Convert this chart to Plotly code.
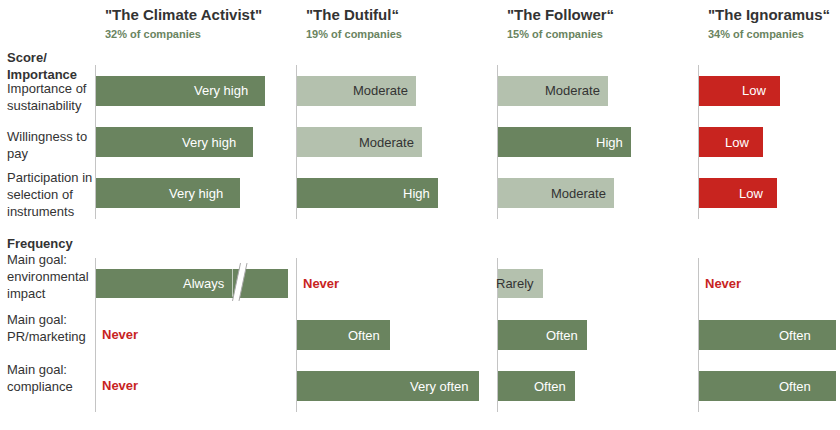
import plotly.graph_objects as go
from plotly.subplots import make_subplots

# profiles (column headers)
profiles = ['"The Climate Activist"', '"The Dutiful\u201c', '"The Follower\u201c', '"The Ignoramus\u201c']
shares = ['32% of companies', '19% of companies', '15% of companies', '34% of companies']

score_items = ['Importance of<br>sustainability', 'Willingness to<br>pay',
               'Participation in<br>selection of<br>instruments']
freq_items = ['Main goal:<br>environmental<br>impact', 'Main goal:<br>PR/marketing',
              'Main goal:<br>compliance']

# bar lengths (arbitrary units, same scale in every panel)
activist_score = [169, 157, 144]
dutiful_score = [119, 125, 141]
follower_score = [110, 133, 116]
ignoramus_score = [81, 64, 78]

activist_freq = [192, 0, 0]   # "Always" bar is drawn with a break
dutiful_freq = [0, 93, 182]
follower_freq = [45, 89, 77]
ignoramus_freq = [0, 137, 137]

activist_score_lbl = ['Very high', 'Very high', 'Very high']
dutiful_score_lbl = ['Moderate', 'Moderate', 'High']
follower_score_lbl = ['Moderate', 'High', 'Moderate']
ignoramus_score_lbl = ['Low', 'Low', 'Low']

activist_freq_lbl = ['Always', 'Never', 'Never']
dutiful_freq_lbl = ['Never', 'Often', 'Very often']
follower_freq_lbl = ['Rarely', 'Often', 'Often']
ignoramus_freq_lbl = ['Never', 'Often', 'Often']

score_vals = [activist_score, dutiful_score, follower_score, ignoramus_score]
freq_vals = [activist_freq, dutiful_freq, follower_freq, ignoramus_freq]
score_lbls = [activist_score_lbl, dutiful_score_lbl, follower_score_lbl, ignoramus_score_lbl]
freq_lbls = [activist_freq_lbl, dutiful_freq_lbl, follower_freq_lbl, ignoramus_freq_lbl]

DARK = '#6a845f'
LIGHT = '#b4c1ae'
RED = '#c8241f'
TXT = '#333333'
FONT = 'Liberation Sans, Arial, sans-serif'

# layout is done in page px; the body margin is removed below so the figure fills the window
FW, FH = 840, 430
def px_x(p): return p / FW
def px_y(p): return 1 - p / FH

colour_of = {'Very high': DARK, 'High': DARK, 'Always': DARK, 'Very often': DARK, 'Often': DARK,
             'Moderate': LIGHT, 'Rarely': LIGHT, 'Low': RED, 'Never': 'rgba(0,0,0,0)'}
text_colour = {LIGHT: TXT, DARK: 'white', RED: 'white'}

fig = make_subplots(rows=2, cols=4)

col_left = [96, 297, 498, 699]          # px where each panel's baseline sits
col_span = [201, 201, 201, 141]
top_dom = [px_y(219), px_y(65)]
bot_dom = [px_y(411.7), px_y(258.3)]

# padding between bar end and its label (px)
score_pad = [15, 6, 6, 12]
freq_pad = [61, 8, 7, 23]
score_shift = [-6, -3, -1]
freq_shift = [7, 7, 8]

annotations = []
for c in range(4):
    for r, (items, vals, lbls, pads) in enumerate([(score_items, score_vals, score_lbls, score_pad),
                                                   (freq_items, freq_vals, freq_lbls, freq_pad)]):
        n = r * 4 + c + 1
        sfx = '' if n == 1 else str(n)
        cols = [colour_of[l] for l in lbls[c]]
        fig.add_trace(go.Bar(x=vals[c], y=items, orientation='h', width=0.58,
                             marker=dict(color=cols, line=dict(width=0)),
                             hoverinfo='skip', showlegend=False), row=r + 1, col=c + 1)
        for it, v, l, cl in zip(items, vals[c], lbls[c], cols):
            if l == 'Never':
                annotations.append(dict(xref='x' + sfx, yref='y' + sfx, x=0, y=it, xanchor='left',
                                        yanchor='middle', xshift=4, text='<b>Never</b>', showarrow=False,
                                        font=dict(size=13, color=RED)))
            else:
                annotations.append(dict(xref='x' + sfx, yref='y' + sfx, x=v, y=it, xanchor='right',
                                        yanchor='middle', xshift=-pads[c], text=l, showarrow=False,
                                        font=dict(size=13, color=text_colour[cl])))
        fig.update_xaxes(domain=[px_x(col_left[c]), min(px_x(col_left[c] + col_span[c]), 1)],
                         range=[0, col_span[c]], visible=False, fixedrange=True,
                         row=r + 1, col=c + 1)
        fig.update_yaxes(domain=top_dom if r == 0 else bot_dom, autorange='reversed',
                         showline=True, linecolor='#c4c4c4', linewidth=1, showgrid=False,
                         zeroline=False, showticklabels=False, ticks='', fixedrange=True,
                         row=r + 1, col=c + 1)
    # column headers
    xr = 'x domain' if c == 0 else 'x%d domain' % (c + 1)
    annotations.append(dict(xref=xr, yref='paper', x=0, y=px_y(15), xanchor='left', yanchor='middle',
                            xshift=7, text='<b>%s</b>' % profiles[c], showarrow=False,
                            font=dict(size=15, color=TXT)))
    annotations.append(dict(xref=xr, yref='paper', x=0, y=px_y(34), xanchor='left', yanchor='middle',
                            xshift=7, text='<b>%s</b>' % shares[c], showarrow=False,
                            font=dict(size=11, color=DARK)))

# row labels on the left
for it, s in zip(score_items, score_shift):
    annotations.append(dict(xref='paper', yref='y', x=px_x(5), y=it, xanchor='left', yanchor='middle',
                            align='left', yshift=s, text=it, showarrow=False,
                            font=dict(size=13, color=TXT)))
for it, s in zip(freq_items, freq_shift):
    annotations.append(dict(xref='paper', yref='y5', x=px_x(5), y=it, xanchor='left', yanchor='middle',
                            align='left', yshift=s, text=it, showarrow=False,
                            font=dict(size=13, color=TXT)))
annotations.append(dict(xref='paper', yref='paper', x=px_x(5), y=px_y(66), xanchor='left',
                        yanchor='middle', align='left', text='<b>Score/<br>Importance</b>',
                        showarrow=False, font=dict(size=13, color=TXT)))
annotations.append(dict(xref='paper', yref='paper', x=px_x(5), y=px_y(243), xanchor='left',
                        yanchor='middle', text='<b>Frequency</b>', showarrow=False,
                        font=dict(size=13, color=TXT)))

# axis break on the "Always" bar
b = activist_freq[0] - 55.5
shapes = [
    dict(type='line', xref='x5', yref='y5 domain', x0=b, x1=b, y0=0.75, y1=0.94,
         line=dict(color='rgba(255,255,255,0.6)', width=1)),
    dict(type='path', xref='x5', yref='y5 domain',
         path='M %f,0.722 L %f,0.969 L %f,0.969 L %f,0.722 Z' % (b, b + 8, b + 14.5, b + 6.5),
         fillcolor='white', line=dict(width=0)),
    dict(type='line', xref='x5', yref='y5 domain', x0=b, x1=b + 8, y0=0.722, y1=0.969,
         line=dict(color='#a8a8a8', width=1)),
    dict(type='line', xref='x5', yref='y5 domain', x0=b + 6.5, x1=b + 14.5, y0=0.722, y1=0.969,
         line=dict(color='#a8a8a8', width=1)),
]

fig.update_layout(width=FW, height=FH, margin=dict(l=0, r=0, t=0, b=0),
                  plot_bgcolor='white', paper_bgcolor='white', bargap=0,
                  font=dict(family=FONT, size=13, color=TXT),
                  annotations=annotations, shapes=shapes)
fig.write_html('out.html', config={'displayModeBar': False},
               post_script="document.body.style.margin='0px';")
